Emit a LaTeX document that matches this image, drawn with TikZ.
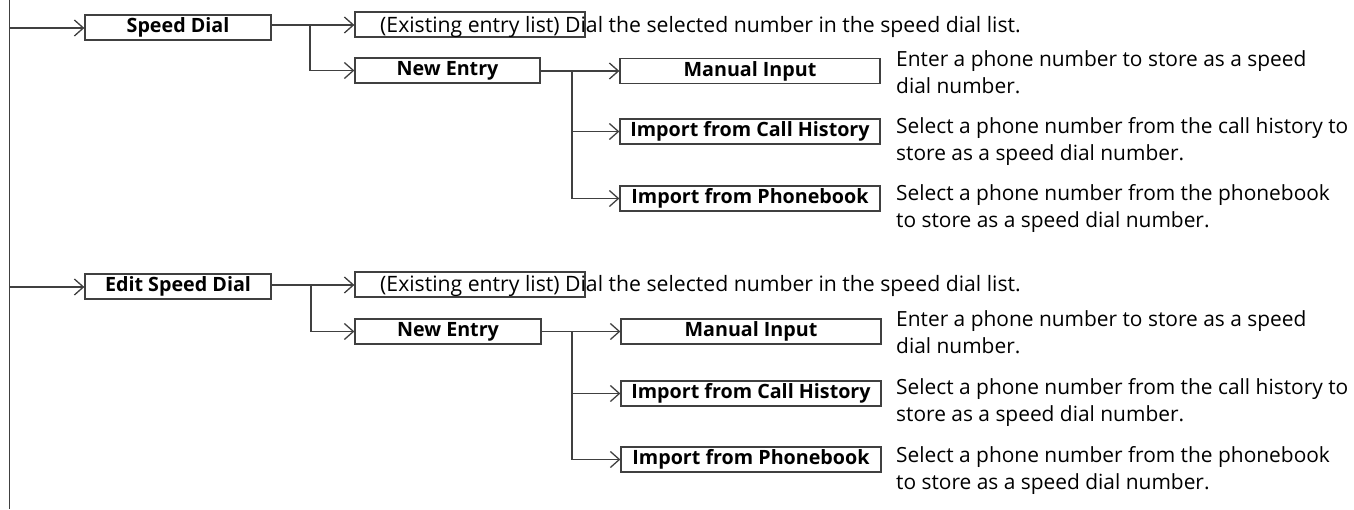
\documentclass[tikz,border=0pt]{standalone}
\usepackage{fontspec}
\setmainfont{Open Sans}
\usetikzlibrary{arrows.meta}
\definecolor{linecol}{HTML}{404040}
\tikzset{
  x=1pt, y=-1pt,
  conn/.style={draw=linecol, line width=1.3pt},
  arr/.style={conn, -{Straight Barb[length=9pt,width=16pt]}},
  menubox/.style={draw=linecol, line width=1.3pt, inner sep=0pt, minimum height=25pt,
    font=\fontsize{19.7}{22}\selectfont\bfseries},
  desc/.style={anchor=base west, inner sep=0pt, align=left,
    font=\fontsize{20.9}{26.3}\selectfont},
  exttext/.style={anchor=base west, inner sep=0pt, font=\fontsize{21.2}{26}\selectfont}
}
\begin{document}
\begin{tikzpicture}
\useasboundingbox (0,0) rectangle (1354,509);
% main vertical line
\coordinate (top) at (9.5,0);
\coordinate (bot) at (9.5,509);
\draw[conn] (top) -- (bot);

% ===== Group 1 =====
\node[menubox, minimum width=186pt] (sd) at (178,27.5) {Speed Dial};
\coordinate (m1) at (9.5,28);
\draw[arr] (m1) -- (m1 -| sd.west);

\node[menubox, minimum width=230pt] (ex1) at (470,24.5) {};
\node[exttext] (ext1) at (380,32)
  {(Existing entry list) Dial the selected number in the speed dial list.};
\node[menubox, minimum width=185pt] (ne1) at (447.5,70.5) {New Entry};
\coordinate (b1) at (310,25);
\draw[conn] (sd.east |- b1) -- (b1);
\draw[arr] (b1) -- (ex1.west |- b1);
\draw[arr] (b1) |- (ne1.west);

\node[menubox, minimum width=260pt] (mi1) at (750,71) {Manual Input};
\node[menubox, minimum width=260pt] (ch1) at (750,131.5) {Import from Call History};
\node[menubox, minimum width=260pt] (pb1) at (750,198.5) {Import from Phonebook};
\coordinate (c1) at (572,71);
\draw[conn] (ne1.east |- c1) -- (c1);
\draw[arr] (c1) -- (mi1.west);
\draw[arr] (c1) |- (ch1.west);
\draw[arr] (c1) |- (pb1.west);

\node[desc] (dmi1) at (896,93) {Enter a phone number to store as a speed\\dial number.};
\node[desc] (dch1) at (896,160) {Select a phone number from the call history to\\store as a speed dial number.};
\node[desc] (dpb1) at (896,227) {Select a phone number from the phonebook\\to store as a speed dial number.};

% ===== Group 2 =====
\node[menubox, minimum width=186pt] (esd) at (178,286.5) {Edit Speed Dial};
\coordinate (m2) at (9.5,287);
\draw[arr] (m2) -- (m2 -| esd.west);

\node[menubox, minimum width=230pt] (ex2) at (470,284.5) {};
\node[exttext] (ext2) at (380,291)
  {(Existing entry list) Dial the selected number in the speed dial list.};
\node[menubox, minimum width=186pt] (ne2) at (448,331.5) {New Entry};
\coordinate (b2) at (311,285);
\draw[conn] (esd.east |- b2) -- (b2);
\draw[arr] (b2) -- (ex2.west |- b2);
\draw[arr] (b2) |- (ne2.west);

\node[menubox, minimum width=260pt] (mi2) at (751,331.5) {Manual Input};
\node[menubox, minimum width=260pt] (ch2) at (751,393.5) {Import from Call History};
\node[menubox, minimum width=260pt] (pb2) at (751,459.5) {Import from Phonebook};
\coordinate (c2) at (572,331.5);
\draw[conn] (ne2.east |- c2) -- (c2);
\draw[arr] (c2) -- (mi2.west);
\draw[arr] (c2) |- (ch2.west);
\draw[arr] (c2) |- (pb2.west);

\node[desc] (dmi2) at (896,353) {Enter a phone number to store as a speed\\dial number.};
\node[desc] (dch2) at (896,421) {Select a phone number from the call history to\\store as a speed dial number.};
\node[desc] (dpb2) at (896,489) {Select a phone number from the phonebook\\to store as a speed dial number.};
\end{tikzpicture}
\end{document}
